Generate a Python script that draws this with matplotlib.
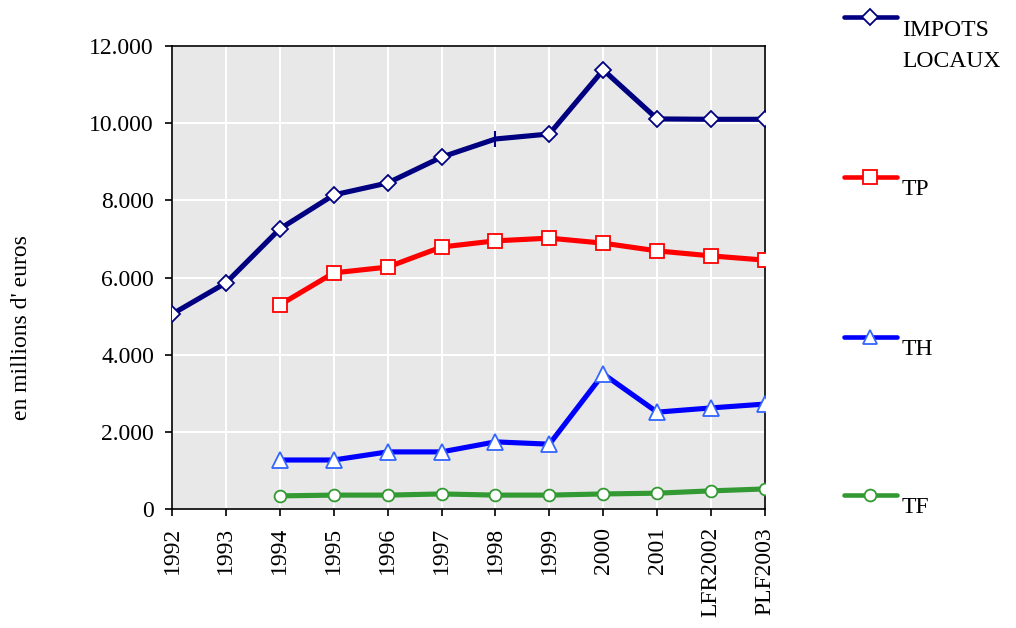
import matplotlib
matplotlib.use("Agg")
import matplotlib.pyplot as plt
from matplotlib.lines import Line2D
from matplotlib.ticker import FuncFormatter

categories = ["1992", "1993", "1994", "1995", "1996", "1997", "1998", "1999",
              "2000", "2001", "LFR2002", "PLF2003"]
impots = [5050, 5860, 7260, 8140, 8450, 9120, 9590, 9720, 11380, 10110, 10100, 10100]
tp = [None, None, 5290, 6120, 6270, 6790, 6950, 7020, 6890, 6690, 6560, 6450]
th = [None, None, 1270, 1270, 1480, 1480, 1740, 1680, 3500, 2510, 2620, 2720]
tf = [None, None, 340, 360, 360, 390, 360, 360, 390, 410, 470, 520]

plt.rcParams['font.family'] = ['Liberation Serif', 'DejaVu Serif']
FS = 17

fig = plt.figure(figsize=(10.16, 6.28), dpi=100)
ax = fig.add_axes([172/1016, 1-509/628, (765-172)/1016, (509-46)/628])
ax.set_facecolor("#e8e8e8")

x = list(range(len(categories)))

def seg(vals):
    xs = [i for i, v in zip(x, vals) if v is not None]
    ys = [v for v in vals if v is not None]
    return xs, ys

lw = 3.7
# IMPOTS LOCAUX
xs, ys = seg(impots)
ax.plot(xs, ys, color="#000080", lw=lw, zorder=3)
dm = [i for i in range(len(xs)) if categories[xs[i]] != "1998"]
ax.plot([xs[i] for i in dm], [ys[i] for i in dm], ls="none", marker="D", ms=8.5,
        mfc="white", mec="#000080", mew=1.3, zorder=4)
pm = [i for i in range(len(xs)) if categories[xs[i]] == "1998"]
ax.plot([xs[i] for i in pm], [ys[i] for i in pm], ls="none", marker="|", ms=12,
        mec="#000080", mew=1.5, zorder=4)
# TP
xs, ys = seg(tp)
ax.plot(xs, ys, color="#ff0000", lw=lw, marker="s", ms=10, mfc="white",
        mec="#ff0000", mew=1.3, zorder=3)
# TH
xs, ys = seg(th)
ax.plot(xs, ys, color="#0000ff", lw=lw, marker="^", ms=11, mfc="white",
        mec="#3366ff", mew=1.3, zorder=3)
# TF
xs, ys = seg(tf)
ax.plot(xs, ys, color="#339933", lw=lw, marker="o", ms=8.5, mfc="white",
        mec="#339933", mew=1.3, zorder=3)

ax.set_xlim(0, len(categories) - 1)
ax.set_ylim(0, 12000)
ax.set_yticks(range(0, 12001, 2000))
ax.yaxis.set_major_formatter(FuncFormatter(lambda v, p: f"{int(v):,}".replace(",", ".")))
ax.set_xticks(x)
ax.set_xticklabels(categories, rotation=90, fontsize=FS)
ax.tick_params(axis="y", labelsize=FS, direction="out", length=5, width=1.2, pad=8)
ax.tick_params(axis="x", direction="out", length=5, width=1.2, pad=8)
ax.grid(True, color="white", lw=1.5)
ax.set_axisbelow(True)
for s in ax.spines.values():
    s.set_color("black")
    s.set_linewidth(1.2)

fig.text(22/1016, 1-328/628, "en millions d' euros", rotation=90, fontsize=FS,
         ha="center", va="center")

# Legend drawn manually
leg = [
    ("IMPOTS", "#000080", "D", "#000080", 8, 17, 36),
    ("TP", "#ff0000", "s", "#ff0000", 9.5, 177, 195),
    ("TH", "#0000ff", "^", "#3366ff", 10.5, 337, 355),
    ("TF", "#339933", "o", "#339933", 8.5, 495, 513),
]
for label, col, mk, mec, ms, yy, base in leg:
    yf = 1 - yy/628
    fig.add_artist(Line2D([844/1016, 897/1016], [yf, yf], color=col, lw=3.3,
                          transform=fig.transFigure, solid_capstyle="round"))
    fig.add_artist(Line2D([870/1016], [yf], marker=mk, ms=ms, mfc="white", mec=mec,
                          mew=1.3, ls="none", transform=fig.transFigure))
    fig.text(902/1016, 1 - base/628, label, fontsize=FS, ha="left", va="baseline")
fig.text(902/1016, 1 - 67/628, "LOCAUX", fontsize=FS, ha="left", va="baseline")

fig.savefig("out.png", dpi=100)
